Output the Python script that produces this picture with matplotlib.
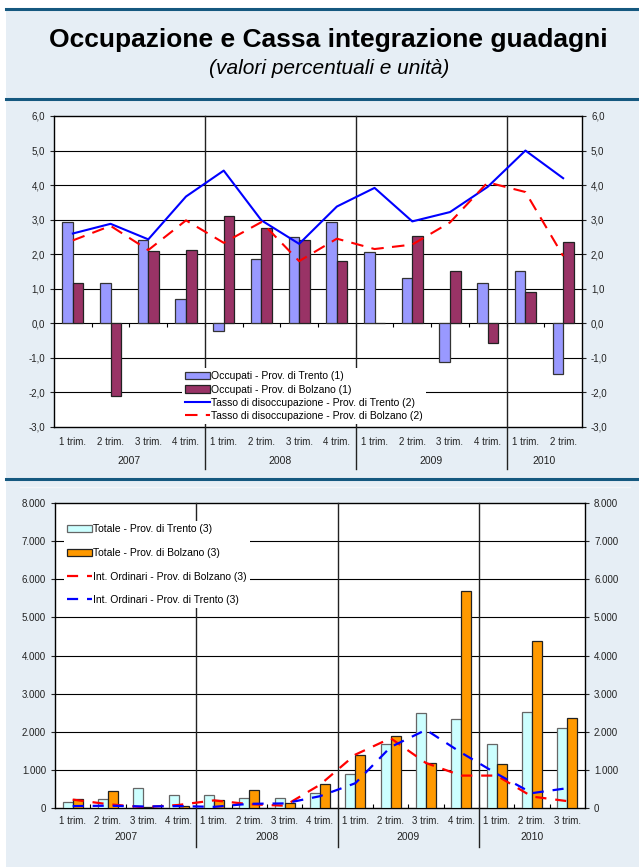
import numpy as np
import matplotlib.pyplot as plt
from matplotlib.patches import Rectangle
from matplotlib.lines import Line2D
from matplotlib.ticker import FixedLocator, FuncFormatter

plt.rcParams['font.family'] = ['Liberation Sans', 'DejaVu Sans']

# --- dati grafico superiore (variazioni % e tassi) ---
trim_sup = ['1 trim.', '2 trim.', '3 trim.', '4 trim.',
            '1 trim.', '2 trim.', '3 trim.', '4 trim.',
            '1 trim.', '2 trim.', '3 trim.', '4 trim.',
            '1 trim.', '2 trim.']
anni_sup = ['2007', '2008', '2009', '2010']
quarti_sup = [4, 4, 4, 2]
occ_trento = [2.92, 1.17, 2.42, 0.70, -0.23, 1.85, 2.50, 2.92,
              2.05, 1.30, -1.12, 1.17, 1.52, -1.47]
occ_bolzano = [1.17, -2.10, 2.08, 2.12, 3.10, 2.77, 2.40, 1.80,
               0.02, 2.52, 1.50, -0.57, 0.92, 2.35]
disocc_trento = [2.60, 2.88, 2.43, 3.67, 4.42, 2.98, 2.30, 3.38,
                 3.92, 2.95, 3.22, 3.95, 5.00, 4.20]
disocc_bolzano = [2.40, 2.82, 2.12, 2.98, 2.33, 2.93, 1.80, 2.45,
                  2.15, 2.28, 2.92, 4.08, 3.80, 1.95]

# --- dati grafico inferiore (Cassa integrazione, unità) ---
trim_inf = trim_sup + ['3 trim.']
anni_inf = ['2007', '2008', '2009', '2010']
quarti_inf = [4, 4, 4, 3]
tot_trento = [150, 240, 525, 350, 350, 250, 260, 395,
              890, 1680, 2490, 2340, 1680, 2510, 2090]
tot_bolzano = [240, 450, 20, 40, 215, 480, 120, 620,
               1380, 1890, 1180, 5690, 1155, 4390, 2360]
ord_bolzano = [220, 100, 20, 80, 200, 100, 60, 610,
               1400, 1830, 1180, 850, 850, 300, 180]
ord_trento = [50, 60, 40, 50, 30, 110, 120, 310,
              650, 1600, 2050, 1450, 900, 390, 520]

W, H = 639, 867
fig = plt.figure(figsize=(W / 100, H / 100), dpi=100, facecolor='white')

# sfondo pannello e linee di separazione
fig.patches.append(Rectangle((6 / W, 0), 1, 1 - 9 / H, transform=fig.transFigure,
                             facecolor='#e6eef5', edgecolor='none', zorder=-10))
for yp in [9, 99, 479]:
    fig.lines.append(Line2D([6 / W, 1], [1 - yp / H] * 2, transform=fig.transFigure,
                            color='#15587f', lw=2.2, zorder=-5))
fig.lines.append(Line2D([20 / W, 630 / W], [1 - 487 / H] * 2, transform=fig.transFigure,
                        color='#f3f6f9', lw=1, zorder=-5))

fig.text(328 / W, 1 - 40 / H, 'Occupazione e Cassa integrazione guadagni',
         ha='center', va='center', fontsize=19, fontweight='bold')
fig.text(329 / W, 1 - 68 / H, '(valori percentuali e unità)',
         ha='center', va='center', fontsize=15, style='italic')


def prepara_assi(ax, n, quarti, anni, etichette, y_tick, y_anno, y_linea, ymin, ymax):
    ax.set_xlim(-0.5, n - 0.5)
    ax.set_ylim(ymin, ymax)
    ax.set_facecolor('white')
    for s in ax.spines.values():
        s.set_color('black')
        s.set_linewidth(1.0)
    ax.tick_params(axis='y', which='major', direction='out', length=3, width=0.8,
                   labelsize=7, right=True, labelright=True, colors='#222222')
    ax.set_xticks([])
    tr = ax.get_xaxis_transform()
    for i, lab in enumerate(etichette):
        ax.text(i, y_tick, lab, transform=tr, ha='center', va='center',
                fontsize=7, color='#222222')
    start = 0
    for q, anno in zip(quarti, anni):
        ax.text(start + q / 2 - 0.5, y_anno, anno, transform=tr, ha='center',
                va='center', fontsize=7.5, color='#222222')
        start += q
        if start < n:
            ax.add_line(Line2D([start - 0.5] * 2, [1, y_linea], transform=tr,
                               color='#222222', lw=1.0, clip_on=False, zorder=4))


def legenda(ax, handles, **kw):
    leg = ax.legend(handles=handles, fontsize=7.5, frameon=True, fancybox=False,
                    framealpha=1, borderpad=0.3, handlelength=2.4,
                    handletextpad=0.1, borderaxespad=0, **kw)
    leg.get_frame().set_facecolor('white')
    leg.get_frame().set_edgecolor('none')
    leg.set_zorder(6)
    return leg


# ---------------- grafico superiore ----------------
n1 = len(trim_sup)
x1 = np.arange(n1)
ax1 = fig.add_axes([54 / W, 1 - 427 / H, 528 / W, 311 / H])
prepara_assi(ax1, n1, quarti_sup, anni_sup, trim_sup, -15 / 311, -34 / 311, -42 / 311, -3, 6)
ax1.set_yticks(np.arange(-3, 7, 1))
ax1.yaxis.set_major_formatter(FuncFormatter(lambda v, p: f'{v:.1f}'.replace('.', ',')))
for v in range(-2, 6):
    ax1.axhline(v, color='black', lw=0.8, zorder=1)
# tacche sull'asse delle categorie (a quota zero)
ax1.vlines(np.arange(0.5, n1 - 0.5), 0, -0.1, color='black', lw=0.8, zorder=2)

bw = 0.28
b1 = ax1.bar(x1 - bw / 2, occ_trento, bw, color='#9999ff', edgecolor='#333333', lw=0.9,
             zorder=3, label='Occupati - Prov. di Trento (1)')
b2 = ax1.bar(x1 + bw / 2, occ_bolzano, bw, color='#993366', edgecolor='#222222', lw=0.9,
             zorder=3, label='Occupati - Prov. di Bolzano (1)')
l1, = ax1.plot(x1, disocc_trento, color='#0000ff', lw=1.5, zorder=5,
               label='Tasso di disoccupazione - Prov. di Trento (2)')
l2, = ax1.plot(x1, disocc_bolzano, color='#ff0000', lw=1.5, dashes=(6, 4), zorder=5,
               label='Tasso di disoccupazione - Prov. di Bolzano (2)')
legenda(ax1, [b1, b2, l1, l2], loc='lower left', bbox_to_anchor=(0.242, 0.01),
        labelspacing=0.3)

# ---------------- grafico inferiore ----------------
n2 = len(trim_inf)
x2 = np.arange(n2)
ax2 = fig.add_axes([55 / W, 1 - 808 / H, 530 / W, 305 / H])
prepara_assi(ax2, n2, quarti_inf, anni_inf, trim_inf, -13 / 305, -29 / 305, -39 / 305, 0, 8000)
ax2.set_yticks(np.arange(0, 8001, 1000))
ax2.yaxis.set_major_formatter(FuncFormatter(lambda v, p: f'{int(v):,}'.replace(',', '.')))
for v in range(1000, 8000, 1000):
    ax2.axhline(v, color='black', lw=0.8, zorder=1)
ax2.xaxis.set_minor_locator(FixedLocator(np.arange(0.5, n2 - 0.5)))
ax2.tick_params(axis='x', which='minor', direction='in', length=3, width=0.8,
                color='black')

c1 = ax2.bar(x2 - bw / 2, tot_trento, bw, color='#ccffff', edgecolor='#666666', lw=0.9,
             zorder=3, label='Totale - Prov. di Trento (3)')
c2 = ax2.bar(x2 + bw / 2, tot_bolzano, bw, color='#ff9900', edgecolor='#222222', lw=0.9,
             zorder=3, label='Totale - Prov. di Bolzano (3)')
m1, = ax2.plot(x2, ord_bolzano, color='#ff0000', lw=1.6, dashes=(5, 4), zorder=5,
               label='Int. Ordinari - Prov. di Bolzano (3)')
m2, = ax2.plot(x2, ord_trento, color='#0000ff', lw=1.6, dashes=(5, 4), zorder=5,
               label='Int. Ordinari - Prov. di Trento (3)')
legenda(ax2, [c1, c2, m1, m2], loc='upper left', bbox_to_anchor=(0.017, 0.94),
        labelspacing=1.3)

fig.savefig('out.png', dpi=100, facecolor='white')
